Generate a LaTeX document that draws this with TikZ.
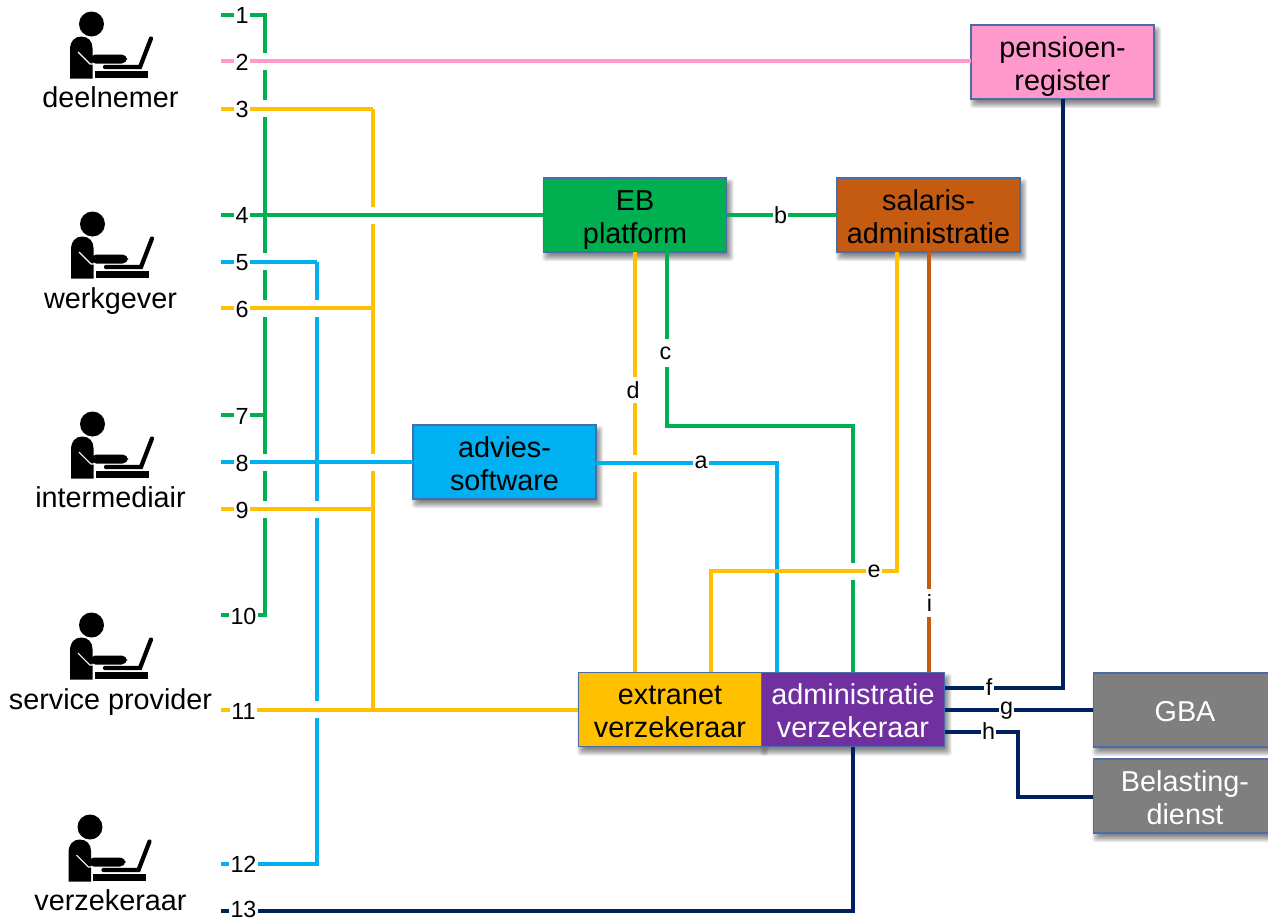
\documentclass[tikz,border=0pt]{standalone}
\usepackage{fontspec}
\setmainfont{Liberation Sans}
\usetikzlibrary{calc,backgrounds}
\definecolor{cGreen}{HTML}{00B050}
\definecolor{cBrown}{HTML}{C55A11}
\definecolor{cBlue}{HTML}{00B0F0}
\definecolor{cYellow}{HTML}{FFC000}
\definecolor{cPurple}{HTML}{7030A0}
\definecolor{cGrey}{HTML}{7F7F7F}
\definecolor{cPink}{HTML}{FF99CC}
\definecolor{cNavy}{HTML}{002060}
\definecolor{cEdge}{HTML}{4A6CA8}
\newcommand{\topline}{\rule{0pt}{23.5pt}}
\newcommand{\botline}{\rule[-6pt]{0pt}{6pt}}
\newcommand{\oneline}{\rule[-1.5pt]{0pt}{19.5pt}}
\tikzset{
  box/.style={draw=cEdge,line width=1.1pt,minimum width=137.5pt,minimum height=55.5pt,inner sep=0pt,outer sep=0pt,align=center,
    font=\fontsize{21.6}{25}\selectfont},
  wire/.style={line width=3pt,line join=miter},
  gapmark/.style={fill=white,draw=none},
  tag/.style={fill=white,inner xsep=1.1pt,inner ysep=0pt,outer sep=0pt,font=\fontsize{17.5}{18}\selectfont},
  actor/.style={anchor=base,inner sep=0pt,font=\fontsize{21.6}{25}\selectfont},
  person/.pic={
    \fill[black] (91.5,24) circle [radius=12.5];
    \fill[black] (70,78.5) -- (70,50) .. controls (70,41) and (75,36.5) .. (81,36.5)
       .. controls (88,36.5) and (92.5,41) .. (92.5,48) -- (92.5,78.5) -- cycle;
    \fill[black,rounded corners=4pt] (90,54.5) rectangle (127,63.5);
    \draw[white,line width=.8pt] (78,52) -- (90,64) -- (93,64);
    \fill[black] (94.5,71) rectangle (147.5,77.5);
    \draw[black,line width=3.2pt,line cap=round] (105,67) -- (140,67) -- (151,38.5);
  }
}
\newcommand{\gapv}[2]{\fill[gapmark] (#1-4,#2-8.5) rectangle (#1+4,#2+8.5);}
\begin{document}
\begin{tikzpicture}[x=0.75pt,y=-0.75pt]
\path[use as bounding box,clip] (0,0) rectangle (1268,921);

% boxes
\node[box,fill=cPink]  (pens) at (1062.5,62) {\topline pensioen-\\register\botline};
\node[box,fill=cGreen] (eb)   at (635,215) {\topline EB\\platform\botline};
\node[box,fill=cBrown] (sal)  at (928.5,215) {\topline salaris-\\administratie\botline};
\node[box,fill=cBlue]  (adv)  at (504.5,462) {\topline advies-\\software\botline};
\node[box,fill=cYellow](ext)  at (670,709.5) {\topline extranet\\verzekeraar\botline};
\node[box,fill=cPurple,text=white] (adm) at (853,709.5) {\topline administratie\\verzekeraar\botline};
\node[box,fill=cGrey,text=white] (gba) at (1185,710) {\oneline GBA};
\node[box,fill=cGrey,text=white] (bel) at (1185,796) {\topline Belasting-\\dienst\botline};

\begin{scope}[on background layer]
  \foreach \n in {pens,eb,sal,adv,ext,adm,gba,bel}{
    \foreach \e in {4,3,2,1,0,-1,-2,-3}{
      \fill[black,opacity=.08,rounded corners=2pt]
        ($(\n.south west)+(3-\e,5+\e)$) rectangle ($(\n.north east)+(3+\e,5-\e)$);
    }
  }
\end{scope}

% actors
\pic at (0,0) {person};
\pic at (1,200) {person};
\pic at (1,400) {person};
\pic at (0,601) {person};
\pic at (-1.5,803) {person};
\node[actor] (a1) at (110.5,107) {deelnemer};
\node[actor] (a2) at (110.5,308.5) {werkgever};
\node[actor] (a3) at (110.5,507.5) {intermediair};
\node[actor] (a4) at (110.5,709) {service provider};
\node[actor] (a5) at (110.5,910) {verzekeraar};

% free ends
\coordinate (s1) at (221,14.5);
\coordinate (s2) at (221,61);
\coordinate (s3) at (221,108.5);
\coordinate (s4) at (221,215);
\coordinate (s5) at (221,261.5);
\coordinate (s6) at (221,308);
\coordinate (s7) at (221,415);
\coordinate (s8) at (221,462);
\coordinate (s9) at (221,509);
\coordinate (s10) at (221,615);
\coordinate (s11) at (221,709.5);
\coordinate (s12) at (221,863.5);
\coordinate (s13) at (221,910.5);
\coordinate (gx) at (265,0);
\coordinate (bx) at (317,0);
\coordinate (yx) at (373,0);

% vertical trunks
\draw[wire,cGreen] (s1) -| (gx |- s10) -- (s10);
\draw[wire,cGreen] (s7) -- (gx |- s7);
\draw[wire,cBlue] (bx |- s5) -- (bx |- s12) -- (s12);
\draw[wire,cYellow] (yx |- s3) -- (yx |- s11);
\coordinate (dt) at (635,252);
\coordinate (db) at (635,672);
\draw[wire,cYellow] (dt) -- (db);
\coordinate (ct) at (666.5,252);
\coordinate (c1) at (666.5,426);
\coordinate (c2) at (852.5,426);
\coordinate (c3) at (852.5,672);
\draw[wire,cGreen] (ct) -- (c1) -- (c2) -- (c3);
\coordinate (a0) at (596,462.5);
\coordinate (a2c) at (777,462.5);
\coordinate (a3c) at (777,672);
\draw[wire,cBlue] (a2c) -- (a3c);

% crossing gaps
\foreach \y in {61,108.5,261.5,308,462,509}{\gapv{265}{\y}}
\foreach \y in {308,509,709.5}{\gapv{317}{\y}}
\foreach \y in {215,462}{\gapv{373}{\y}}
\gapv{635}{463}
\gapv{777}{571}
\gapv{852.5}{571}

% crossing wires
\draw[wire,cBlue] (a0) -- (a2c) -- (a3c);
\draw[wire,cPink] (s2) -- (s2 -| pens.west);
\draw[wire,cYellow] (s3) -| (yx |- s3);
\draw[wire,cGreen] (s4) -- (s4 -| eb.west);
\draw[wire,cBlue] (s5) -| (bx |- s5);
\draw[wire,cYellow] (s6) -- (yx |- s6);
\draw[wire,cBlue] (s8) -- (s8 -| adv.west);
\draw[wire,cYellow] (s9) -- (yx |- s9);
\draw[wire,cYellow] (s11) -- (s11 -| ext.west);
\draw[wire,cNavy] (adm.south) |- (s13);
\coordinate (e1) at (897,252);
\coordinate (e2) at (897,571);
\coordinate (e3) at (711,571);
\coordinate (e4) at (711,672);
\draw[wire,cYellow] (e1) -- (e2) -- (e3) -- (e4);
\coordinate (i1) at (928.5,252);
\coordinate (i2) at (928.5,672);
\draw[wire,cBrown] (i1) -- (i2);
\draw[wire,cGreen] (eb.east) -- (sal.west);
\coordinate (f0) at (945,687.5);
\draw[wire,cNavy] (f0) -| (pens.south);
\coordinate (g0) at (945,709.5);
\draw[wire,cNavy] (g0) -- (g0 -| gba.west);
\coordinate (h0) at (945,732);
\coordinate (h1) at (1018,732);
\coordinate (h2) at (1018,796.5);
\coordinate (h3) at (1093,796.5);
\draw[wire,cNavy] (h0) -- (h1) -- (h2) -- (h3);

% tags
\node[tag] (n1) at (242,15) {1};
\node[tag] (n2) at (242,62) {2};
\node[tag] (n3) at (242,109) {3};
\node[tag] (n4) at (242,215.5) {4};
\node[tag] (n5) at (242,262.5) {5};
\node[tag] (n6) at (242,309.5) {6};
\node[tag] (n7) at (242,416.5) {7};
\node[tag] (n8) at (242,463) {8};
\node[tag] (n9) at (242,510) {9};
\node[tag] (n10) at (243.5,616.5) {10};
\node[tag] (n11) at (243.5,711) {11};
\node[tag] (n12) at (243.5,864.5) {12};
\node[tag] (n13) at (243.5,909.5) {13};
\node[tag] (la) at (701,462) {a};
\node[tag] (lb) at (780.5,215) {b};
\node[tag,inner ysep=5.5pt] (lc) at (665.5,353) {c};
\node[tag,inner ysep=3pt] (ld) at (633,390) {d};
\node[tag] (le) at (874,571) {e};
\node[tag] (lf) at (989,687) {f};
\node[tag] (lg) at (1006.5,711) {g};
\node[tag] (lh) at (988.5,731) {h};
\node[tag,inner ysep=4pt] (li) at (929.5,603) {i};
\end{tikzpicture}
\end{document}
